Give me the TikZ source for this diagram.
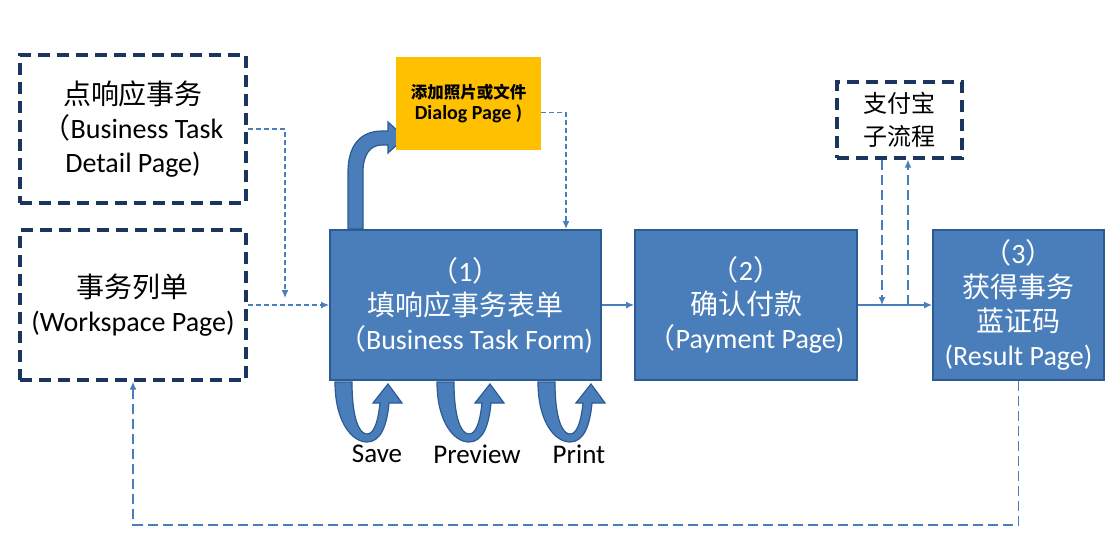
\documentclass[tikz,border=0pt]{standalone}
\usepackage{fontspec}
\setmainfont{Carlito}
\newfontfamily\cjk{Noto Sans CJK SC}
\usetikzlibrary{arrows.meta}
\definecolor{boxblue}{HTML}{4A7EBB}
\definecolor{boxline}{HTML}{2C5A93}
\definecolor{navy}{HTML}{1C355F}
\definecolor{linkblue}{HTML}{4A7EBB}
\definecolor{dialogyellow}{HTML}{FFC000}
\newcommand{\zh}[1]{{\cjk #1}}

\tikzset{
  pagebox/.style={draw=navy, line width=3.4pt, dash pattern=on 12pt off 7pt,
    align=center, inner sep=0pt, font=\fontsize{28}{34}\selectfont},
  stepbox/.style={draw=boxline, fill=boxblue, line width=1.8pt, text=white,
    align=center, inner sep=0pt, font=\fontsize{28}{34}\selectfont},
  link/.style={draw=linkblue, line width=1.3pt, -{Latex[length=8pt,width=7pt]}},
  dlink/.style={link, dash pattern=on 5pt off 3pt},
  longdash/.style={link, dash pattern=on 10pt off 5pt},
  bigarrow/.style={fill=boxblue, draw=boxline, line width=1.2pt},
  looplabel/.style={font=\fontsize{27}{30}\selectfont, inner sep=0pt},
}

\begin{document}
\begin{tikzpicture}[x=1pt,y=-1pt]
    \useasboundingbox (0,0) rectangle (1112,550);

    % bent arrow up to the dialog
    \draw[bigarrow] (348,229) -- (348,172) .. controls (348,146) and (360,131) .. (382,131)
        -- (388,131) -- (388,122) -- (405,137.5) -- (388,153) -- (388,145) -- (382,145)
        .. controls (370,145) and (363,155) .. (363,172) -- (363,229) -- cycle;

    % pages
    \node[pagebox, minimum width=226pt, minimum height=148pt] (detail) at (133,129)
        {\zh{点响应事务}\\\zh{（}Business Task\\Detail Page)};
    \node[pagebox, minimum width=226pt, minimum height=150pt] (work) at (133,305)
        {\zh{事务列单}\\(Workspace Page)};
    \node[stepbox, minimum width=271pt, minimum height=150pt] (form) at (465.5,305)
        {\zh{（}1\zh{）}\\\zh{填响应事务表单}\\\zh{（}Business Task Form)};
    \node[stepbox, minimum width=222pt, minimum height=150pt] (pay) at (746,305)
        {\zh{（}2\zh{）}\\\zh{确认付款}\\\zh{（}Payment Page)};
    \node[stepbox, minimum width=171pt, minimum height=150pt] (result) at (1018.5,305)
        {\zh{（}3\zh{）}\\\zh{获得事务}\\\zh{蓝证码}\\(Result Page)};
    \node[fill=dialogyellow, minimum width=145pt, minimum height=93pt, align=center,
        inner sep=0pt, font=\bfseries\fontsize{20}{21}\selectfont] (dialog) at (468.5,103.5)
        {{\cjk\fontsize{16.5}{21}\selectfont 添加照片或文件}\\Dialog Page )};
    \node[pagebox, minimum width=125pt, minimum height=76pt,
        font=\fontsize{24}{33}\selectfont] (alipay) at (899.5,120)
        {\zh{支付宝}\\\zh{子流程}};

    % loops under the form
    \foreach \x in {335,437,538}
        \draw[bigarrow] (\x,382) .. controls (\x,422) and (\x+17,442) .. (\x+32,442)
            .. controls (\x+46,442) and (\x+52,425) .. (\x+54,403) -- (\x+67,403)
            -- (\x+53,384) -- (\x+38,403) -- (\x+45,403)
            .. controls (\x+43,422) and (\x+39,434) .. (\x+32,434)
            .. controls (\x+24,434) and (\x+17,418) .. (\x+17,382) -- cycle;
    \node[looplabel] (save) at (377,454) {Save};
    \node[looplabel] (preview) at (477,454) {Preview};
    \node[looplabel] (print) at (579,454) {Print};

    % connectors
    \coordinate (jd) at (285,298);
    \coordinate (dl) at (566,229);
    \coordinate (ain) at (882,305);
    \coordinate (aout) at (908,305);
    \draw[dlink] (detail.east) -| (jd);
    \draw[dlink] (work.east) -- (form.west);
    \draw[dlink] ([yshift=-9pt]dialog.east) -| (dl);
    \draw[link] (form.east) -- (pay.west);
    \draw[link] (pay.east) -- (result.west);
    \draw[longdash] (alipay.south -| ain) -- (ain);
    \draw[longdash] (aout) -- (alipay.south -| aout);
    \draw[longdash] (result.south) -- ++(0,144) -| (work.south);
\end{tikzpicture}
\end{document}
